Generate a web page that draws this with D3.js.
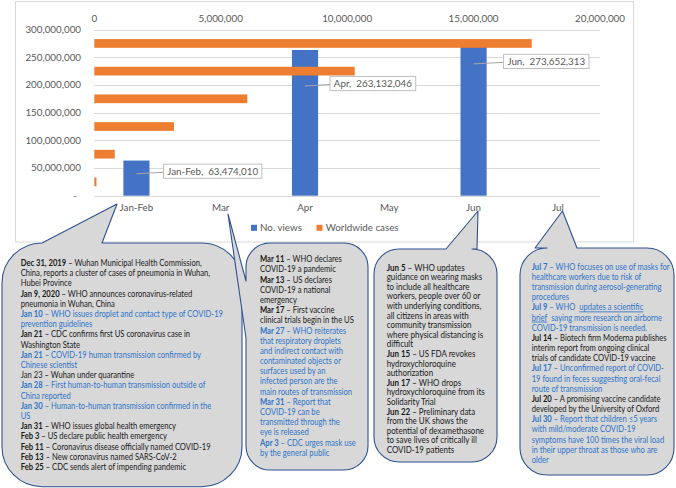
<!DOCTYPE html>
<html><head><meta charset="utf-8">
<script src="https://cdn.jsdelivr.net/npm/d3@7"></script>
<style>
body{margin:0;background:#fff}
svg{display:block}
text{font-family:Lato,"Open Sans",sans-serif;white-space:pre}
</style>
</head><body>
<svg id="c" width="676" height="488"></svg>
<script>
// ---------- data ----------
const categories = ["Jan-Feb", "Mar", "Apr", "May", "Jun", "Jul"];
const views = [63474010, null, 263132046, null, 273652313, null];          // No. views (left axis)
const cases = [85000, 810000, 3150000, 6050000, 10300000, 17300000];      // Worldwide cases (top axis)
const viewTicks = [0, 50000000, 100000000, 150000000, 200000000, 250000000, 300000000];
const caseTicks = [0, 5000000, 10000000, 15000000, 20000000];
const seriesNames = ["No. views", "Worldwide cases"];

// timeline texts: k = black, b = blue; **bold**, __underline__
const janFebNotes = [
  ["k","**Dec 31, 2019** – Wuhan Municipal Health Commission,"],
  ["k","China, reports a cluster of cases of pneumonia in Wuhan,"],
  ["k","Hubei Province"],
  ["k","**Jan 9, 2020** – WHO announces coronavirus-related"],
  ["k","pneumonia in Wuhan, China"],
  ["b","**Jan 10** – WHO issues droplet and contact type of COVID-19"],
  ["b","prevention guidelines"],
  ["k","**Jan 21** – CDC confirms first US coronavirus case in"],
  ["k","Washington State"],
  ["b","**Jan 21** – COVID-19 human transmission confirmed by"],
  ["b","Chinese scientist"],
  ["k","Jan 23 – Wuhan under quarantine"],
  ["b","**Jan 28** – First human-to-human transmission outside of"],
  ["b","China reported"],
  ["b","**Jan 30** – Human-to-human transmission confirmed in the"],
  ["b","US"],
  ["k","**Jan 31** – WHO issues global health emergency"],
  ["k","**Feb 3** – US declare public health emergency"],
  ["k","**Feb 11** – Coronavirus disease officially named COVID-19"],
  ["k","**Feb 13** – New coronavirus named SARS-CoV-2"],
  ["k","**Feb 25** – CDC sends alert of impending pandemic"]
];
const marNotes = [
  ["k","**Mar 11** – WHO declares"],
  ["k","COVID-19 a pandemic"],
  ["k","**Mar 13** – US declares"],
  ["k","COVID-19 a national"],
  ["k","emergency"],
  ["k","**Mar 17** – First vaccine"],
  ["k","clinical trials begin in the US"],
  ["b","**Mar 27** – WHO reiterates"],
  ["b","that respiratory droplets"],
  ["b","and indirect contact with"],
  ["b","contaminated objects or"],
  ["b","surfaces used by an"],
  ["b","infected person are the"],
  ["b","main routes of transmission"],
  ["b","**Mar 31** – Report that"],
  ["b","COVID-19 can be"],
  ["b","transmitted through the"],
  ["b","eye is released"],
  ["b","**Apr 3** – CDC urges mask use"],
  ["b","by the general public"]
];
const junNotes = [
  ["k","**Jun 5** – WHO updates"],
  ["k","guidance on wearing masks"],
  ["k","to include all healthcare"],
  ["k","workers, people over 60 or"],
  ["k","with underlying conditions,"],
  ["k","all citizens in areas with"],
  ["k","community transmission"],
  ["k","where physical distancing is"],
  ["k","difficult"],
  ["k","**Jun 15** – US FDA revokes"],
  ["k","hydroxychloroquine"],
  ["k","authorization"],
  ["k","**Jun 17** – WHO drops"],
  ["k","hydroxychloroquine from its"],
  ["k","Solidarity Trial"],
  ["k","**Jun 22** – Preliminary data"],
  ["k","from the UK shows the"],
  ["k","potential of dexamethasone"],
  ["k","to save lives of critically ill"],
  ["k","COVID-19 patients"]
];
const julNotes = [
  ["b","**Jul 7** – WHO focuses on use of masks for"],
  ["b","healthcare workers due to risk of"],
  ["b","transmission during aerosol-generating"],
  ["b","procedures"],
  ["b","**Jul 9** – WHO  __updates a scientific__"],
  ["b","__brief__  saying more research on airborne"],
  ["b","COVID-19 transmission is needed."],
  ["k","**Jul 14** – Biotech firm Moderna publishes"],
  ["k","interim report from ongoing clinical"],
  ["k","trials of candidate COVID-19 vaccine"],
  ["b","**Jul 17** – Unconfirmed report of COVID-"],
  ["b","19 found in feces suggesting oral-fecal"],
  ["b","route of transmission"],
  ["k","**Jul 20** – A promising vaccine candidate"],
  ["k","developed by the University of Oxford"],
  ["b","**Jul 30** – Report that children ≤5 years"],
  ["b","with mild/moderate COVID-19"],
  ["b","symptoms have 100 times the viral load"],
  ["b","in their upper throat as those who are"],
  ["b","older"]
];

// ---------- layout ----------
const svg = d3.select("#c");
const plot = {l: 94.3, r: 600, t: 29.6, b: 195.7};
const C = {blue: "#4472c4", orange: "#ed7d31", grid: "#d9d9d9", axis: "#595959",
           fill: "#d8d8d8", edge: "#2f528f", tBlue: "#2e74c9", tBlack: "#1a1a1a"};
const axisFont = 9.8;
const noteFont = 8.7;

const x = d3.scaleBand().domain(categories).range([plot.l, plot.r]).paddingInner(0.69).paddingOuter(0.345);
const y = d3.scaleLinear().domain([0, 300000000]).range([plot.b, plot.t]);
const x2 = d3.scaleLinear().domain([0, 20000000]).range([plot.l, plot.r]);
const y2 = d3.scaleBand().domain(categories).range([plot.b, plot.t]).paddingInner(0.685).paddingOuter(0.3425);

// chart frame
svg.append("rect").attr("x", 15.5).attr("y", 1.5).attr("width", 618).attr("height", 240.5)
  .attr("fill", "#fff").attr("stroke", C.grid);

// gridlines
svg.append("g").selectAll("line").data(viewTicks).join("line")
  .attr("x1", plot.l).attr("x2", plot.r)
  .attr("y1", d => Math.round(y(d)) + 0.5).attr("y2", d => Math.round(y(d)) + 0.5)
  .attr("stroke", C.grid).attr("stroke-width", 1);

// left axis
svg.append("g").selectAll("text").data(viewTicks).join("text")
  .attr("x", d => d === 0 ? 77 : 81).attr("y", d => y(d) + 3.4)
  .attr("text-anchor", "end").attr("fill", C.axis).attr("font-size", axisFont)
  .text(d => d === 0 ? "-" : d3.format(",")(d));

// top axis
svg.append("g").selectAll("text").data(caseTicks).join("text")
  .attr("x", d => x2(d)).attr("y", 21.5)
  .attr("text-anchor", "middle").attr("fill", C.axis).attr("font-size", axisFont)
  .text(d => d3.format(",")(d));

// category axis
svg.append("g").selectAll("text").data(categories).join("text")
  .attr("x", d => x(d) + x.bandwidth() / 2).attr("y", 211.2)
  .attr("text-anchor", "middle").attr("fill", C.axis).attr("font-size", axisFont)
  .text(d => d);

// blue column bars
const viewData = categories.map((c, i) => ({c, v: views[i]})).filter(d => d.v != null);
svg.append("g").selectAll("rect").data(viewData).join("rect")
  .attr("x", d => x(d.c)).attr("width", x.bandwidth())
  .attr("y", d => y(d.v)).attr("height", d => plot.b - y(d.v))
  .attr("fill", C.blue);

// orange horizontal bars
const caseData = categories.map((c, i) => ({c, v: cases[i]}));
svg.append("g").selectAll("rect").data(caseData).join("rect")
  .attr("x", plot.l).attr("width", d => x2(d.v) - plot.l)
  .attr("y", d => y2(d.c)).attr("height", y2.bandwidth())
  .attr("fill", C.orange);

// data labels (offsets from bar)
const labelPlace = {"Jan-Feb": {dx: 27, dy: 10.7}, "Apr": {dx: 25, dy: 33.5}, "Jun": {dx: 30, dy: 17.2}};
const lg = svg.append("g");
viewData.forEach(d => {
  const p = labelPlace[d.c]; if (!p) return;
  const cx = x(d.c) + x.bandwidth() / 2;
  const bx = cx + p.dx, cy = y(d.v) + p.dy;
  lg.append("line").attr("x1", cx).attr("y1", cy + 2.5).attr("x2", bx).attr("y2", cy + 1)
    .attr("stroke", "#a6a6a6").attr("stroke-width", 1);
  const box = lg.append("rect");
  const t = lg.append("text").attr("x", bx + 3.8).attr("y", cy + 3.4).attr("fill", C.axis)
    .attr("font-size", axisFont).text(d.c + ",  " + d3.format(",")(d.v));
  const w = t.node().getComputedTextLength() + 7.6;
  box.attr("x", bx).attr("y", cy - 7.1).attr("width", w).attr("height", 14.2)
    .attr("fill", "#fff").attr("stroke", "#bfbfbf").attr("stroke-width", 1);
});

// legend
const legend = svg.append("g");
[[seriesNames[0], C.blue, 251, 260], [seriesNames[1], C.orange, 316.5, 325.7]].forEach(([n, col, sx, tx]) => {
  legend.append("rect").attr("x", sx).attr("y", 224.8).attr("width", 6).attr("height", 6).attr("fill", col);
  legend.append("text").attr("x", tx).attr("y", 231.2).attr("fill", C.axis).attr("font-size", axisFont).text(n);
});

// ---------- callouts ----------
function calloutPath(b) {
  const {x: X, y: Y, w, h, r, side, a1, a2, tip} = b;
  const R = X + w, B = Y + h;
  const arc = (ex, ey) => `A${r},${r} 0 0 1 ${ex},${ey}`;
  if (side === "top") {
    return `M${X + r},${Y} L${a1},${Y} L${tip[0]},${tip[1]} L${a2},${Y} L${R - r},${Y} ${arc(R, Y + r)} L${R},${B - r} ${arc(R - r, B)} L${X + r},${B} ${arc(X, B - r)} L${X},${Y + r} ${arc(X + r, Y)} Z`;
  }
  return `M${X + r},${Y} L${R - r},${Y} ${arc(R, Y + r)} L${R},${B - r} ${arc(R - r, B)} L${X + r},${B} ${arc(X, B - r)} L${X},${a2} L${tip[0]},${tip[1]} L${X},${a1} L${X},${Y + r} ${arc(X + r, Y)} Z`;
}

const bubbles = [
  {x: 2, y: 243, w: 240, h: 243.7, r: 40, side: "top", a1: 42, a2: 102, tip: [117, 204],
   notes: janFebNotes, tx: 20.7, ty: 263, lh: 10.2, ref: 0, refW: 181},
  {x: 246, y: 243, w: 122, h: 227, r: 24, side: "left", a1: 281, a2: 338, tip: [228, 214],
   notes: marNotes, tx: 260, ty: 259.3, lh: 10.18, ref: 6, refW: 94},
  {x: 374, y: 249, w: 123, h: 213, r: 25, side: "top", a1: 446, a2: 477, tip: [478, 211],
   notes: junNotes, tx: 386.7, ty: 267.7, lh: 9.6, ref: 7, refW: 96.6},
  {x: 520, y: 248, w: 154, h: 227, r: 27, side: "top", a1: 535, a2: 577, tip: [562.5, 211],
   notes: julNotes, tx: 531.7, ty: 266.7, lh: 10.17, ref: 7, refW: 135}
];

function parse(s) {
  const out = []; const re = /(\*\*[^*]+\*\*|__[^_]+__)/g; let last = 0, m;
  while ((m = re.exec(s))) {
    if (m.index > last) out.push({t: s.slice(last, m.index)});
    const tok = m[0];
    if (tok.startsWith("**")) out.push({t: tok.slice(2, -2), b: true});
    else out.push({t: tok.slice(2, -2), u: true});
    last = m.index + tok.length;
  }
  if (last < s.length) out.push({t: s.slice(last)});
  return out;
}

bubbles.forEach(b => {
  svg.append("path").attr("d", calloutPath(b)).attr("fill", C.fill)
    .attr("stroke", C.edge).attr("stroke-width", 1.1).attr("stroke-linejoin", "round");
  const g = svg.append("g");
  const texts = b.notes.map((n, i) => {
    const t = g.append("text").attr("x", 0).attr("y", b.ty + 3 + i * b.lh)
      .attr("font-size", noteFont).attr("fill", n[0] === "b" ? C.tBlue : C.tBlack);
    parse(n[1]).forEach(seg => {
      const ts = t.append("tspan").text(seg.t);
      if (seg.b) ts.attr("font-weight", 700);
      if (seg.u) ts.style("text-decoration", "underline");
    });
    return t;
  });
  const len = texts[b.ref].node().getComputedTextLength();
  const s = b.refW / len;
  g.attr("transform", `translate(${b.tx},0) scale(${s},1)`);
});
</script>
</body></html>
